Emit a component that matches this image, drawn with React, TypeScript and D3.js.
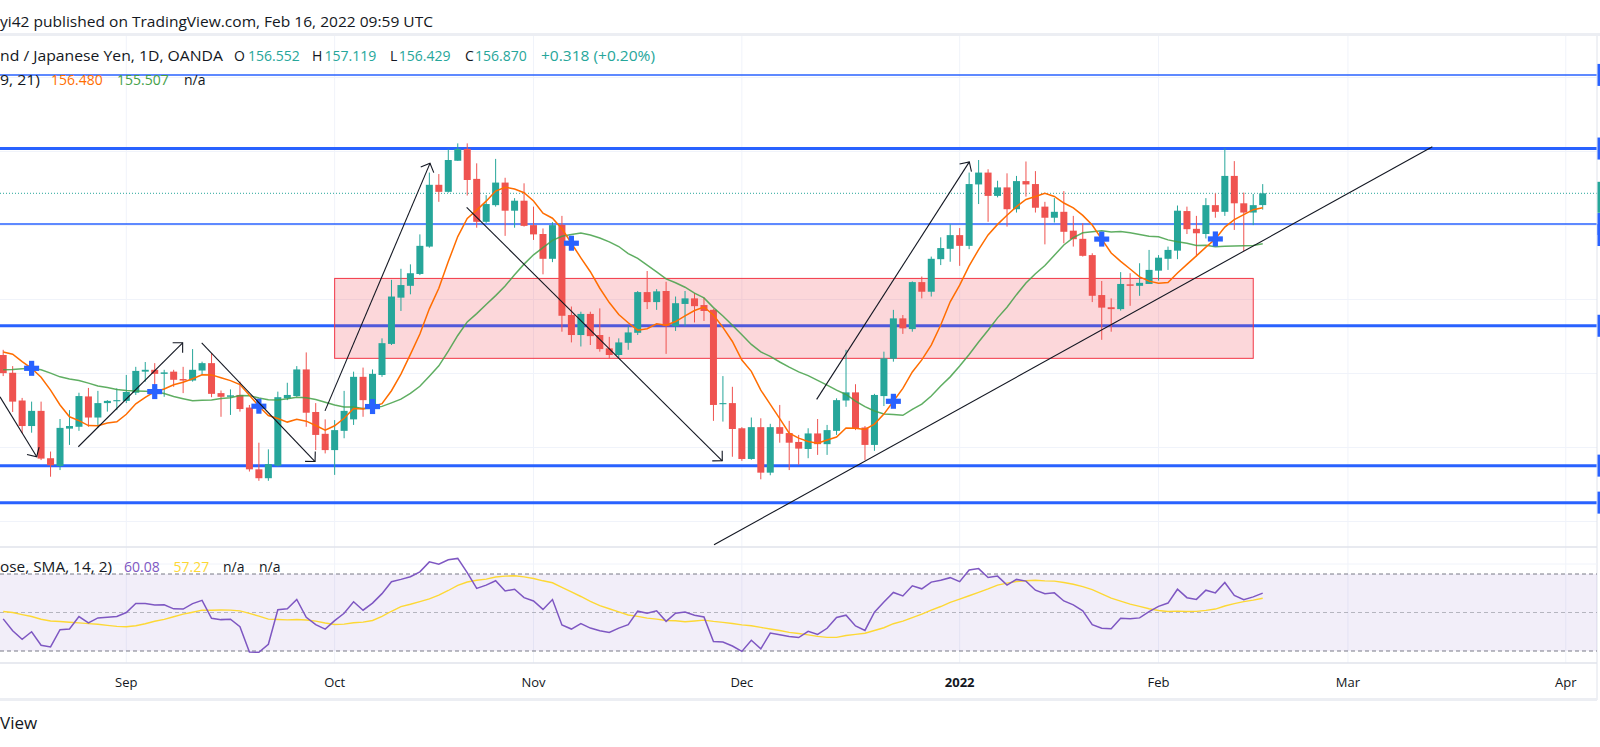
import React, { useEffect } from 'react';
import * as d3 from 'd3';

const W = 1600;
const H = 747;

// bar index of the first trading day of each month (bar 0 = 13 Aug 2021)
const monthTicks = [13, 35, 56, 78, 101, 122, 142, 165];
const monthLabels = ['Sep', 'Oct', 'Nov', 'Dec', '2022', 'Feb', 'Mar', 'Apr'];

// GBP/JPY daily candles: open, high, low, close
const ohlc: [number, number, number, number][] = [
  [152.50, 152.64, 151.93, 152.01], [152.02, 152.20, 150.96, 151.24], [151.27, 151.34, 150.39, 150.58],
  [150.58, 151.24, 150.40, 150.99], [150.99, 151.24, 149.66, 149.70], [149.71, 149.89, 149.21, 149.52],
  [149.50, 150.77, 149.39, 150.53], [150.51, 151.01, 150.07, 150.58], [150.56, 151.48, 150.45, 151.39],
  [151.38, 151.61, 150.56, 150.81], [150.81, 151.53, 150.54, 151.20], [151.20, 151.28, 150.97, 151.26],
  [151.25, 151.60, 151.01, 151.28], [151.26, 151.96, 151.20, 151.50], [151.48, 152.18, 151.42, 152.07],
  [152.05, 152.31, 151.78, 152.10], [152.10, 152.28, 151.60, 151.99], [151.99, 152.10, 151.37, 152.03],
  [152.05, 152.10, 151.64, 151.83], [151.85, 152.18, 151.47, 151.81], [151.81, 152.66, 151.78, 152.10],
  [152.08, 152.32, 151.96, 152.28], [152.28, 152.55, 151.36, 151.45], [151.47, 151.54, 150.83, 151.37],
  [151.37, 151.57, 150.88, 151.41], [151.42, 151.78, 150.97, 151.04], [151.08, 151.15, 149.35, 149.41],
  [149.41, 150.13, 149.10, 149.17], [149.17, 149.95, 149.10, 149.55], [149.51, 151.51, 149.48, 151.36],
  [151.33, 151.75, 151.28, 151.42], [151.39, 152.20, 151.37, 152.11], [152.11, 152.57, 150.56, 150.94],
  [150.96, 151.20, 149.93, 150.34], [150.37, 150.76, 149.84, 149.93], [149.93, 150.74, 149.26, 150.47],
  [150.45, 151.53, 150.25, 150.99], [150.76, 152.05, 150.61, 151.91], [151.91, 152.16, 150.83, 151.28],
  [151.10, 152.11, 150.92, 151.99], [151.96, 152.95, 151.91, 152.82], [152.80, 154.53, 152.77, 154.08],
  [154.05, 154.83, 153.69, 154.39], [154.37, 154.95, 154.14, 154.71], [154.69, 155.76, 154.66, 155.45],
  [155.43, 157.43, 155.40, 157.10], [157.10, 157.39, 156.64, 156.91], [156.91, 158.07, 156.89, 157.77],
  [157.75, 158.22, 157.75, 158.07], [158.07, 158.22, 156.81, 157.23], [157.26, 157.68, 155.94, 156.10],
  [156.10, 156.82, 156.06, 156.58], [156.55, 157.80, 156.51, 157.16], [157.16, 157.29, 155.72, 156.40],
  [156.40, 156.74, 155.94, 156.67], [156.67, 157.14, 155.97, 155.99], [156.01, 156.51, 155.61, 155.76],
  [155.77, 155.92, 154.68, 155.10], [155.10, 156.09, 155.01, 156.01], [156.02, 156.26, 153.13, 153.56],
  [153.58, 153.81, 152.84, 153.04], [153.04, 153.67, 152.73, 153.61], [153.61, 153.67, 152.77, 153.01],
  [153.04, 153.76, 152.59, 152.66], [152.68, 152.99, 152.41, 152.50], [152.50, 152.95, 152.41, 152.84],
  [152.83, 153.27, 152.64, 153.11], [153.10, 154.23, 153.04, 154.20], [154.20, 154.77, 153.74, 153.93],
  [153.93, 154.28, 153.72, 154.22], [154.23, 154.48, 152.53, 153.28], [153.28, 154.08, 153.15, 153.90],
  [153.88, 154.23, 153.28, 154.03], [154.03, 154.17, 153.38, 153.82], [153.85, 154.05, 153.42, 153.69],
  [153.72, 153.74, 150.72, 151.15], [151.17, 151.93, 150.70, 151.20], [151.20, 151.64, 149.75, 150.50],
  [150.52, 150.55, 149.64, 149.69], [149.69, 150.81, 149.67, 150.55], [150.55, 150.79, 149.14, 149.32],
  [149.32, 150.64, 149.25, 150.55], [150.55, 151.15, 150.13, 150.37], [150.39, 150.72, 149.39, 150.13],
  [150.15, 150.34, 149.53, 149.97], [149.96, 150.52, 149.71, 150.38], [150.38, 150.77, 149.80, 150.09],
  [150.09, 150.61, 149.80, 150.47], [150.45, 151.33, 150.34, 151.28], [151.27, 152.64, 151.10, 151.49],
  [151.49, 151.71, 150.47, 150.52], [150.54, 150.58, 149.66, 150.07], [150.07, 151.45, 149.91, 151.42],
  [151.39, 152.59, 151.12, 152.41], [152.40, 153.72, 152.32, 153.49], [153.49, 153.58, 153.07, 153.22],
  [153.20, 154.49, 153.13, 154.47], [154.47, 154.62, 154.03, 154.21], [154.21, 155.16, 154.08, 155.10],
  [155.09, 155.68, 154.93, 155.39], [155.37, 156.03, 155.02, 155.74], [155.74, 155.93, 154.91, 155.45],
  [155.45, 157.43, 155.36, 157.12], [157.11, 157.77, 156.58, 157.43], [157.43, 157.52, 156.10, 156.80],
  [156.80, 157.21, 156.76, 157.03], [157.03, 157.41, 155.97, 156.44], [156.44, 157.34, 156.35, 157.20],
  [157.20, 157.73, 156.78, 157.11], [157.12, 157.47, 156.35, 156.48], [156.51, 156.64, 155.49, 156.21],
  [156.21, 156.74, 156.08, 156.37], [156.37, 156.93, 155.52, 155.83], [155.86, 156.26, 155.43, 155.63],
  [155.64, 156.06, 155.16, 155.18], [155.20, 155.25, 153.93, 154.10], [154.12, 154.50, 152.91, 153.78],
  [153.79, 154.03, 153.13, 153.74], [153.74, 154.74, 153.70, 154.42], [154.41, 154.71, 153.83, 154.37],
  [154.37, 154.98, 154.10, 154.45], [154.42, 155.34, 154.42, 154.80], [154.78, 155.20, 154.51, 155.13],
  [155.10, 155.43, 154.80, 155.34], [155.32, 156.54, 155.09, 156.40], [156.39, 156.51, 155.77, 155.90],
  [155.91, 156.26, 155.16, 155.79], [155.77, 156.74, 155.65, 156.55], [156.55, 156.87, 156.21, 156.37],
  [156.37, 158.09, 156.26, 157.34], [157.34, 157.74, 155.88, 156.60], [156.60, 156.89, 155.31, 156.35],
  [156.35, 156.85, 156.01, 156.55], [156.552, 157.119, 156.429, 156.870],
];

// moving-average values before the window is full (history left of the chart)
const fastLead = [152.58, 152.52, 152.32, 152.14, 151.90, 151.55, 151.15, 150.83];
const slowLead = [152.10, 152.11, 152.13, 152.14, 152.10, 152.01, 151.91, 151.85, 151.81, 151.74,
  151.66, 151.62, 151.57, 151.54, 151.53, 151.52, 151.51, 151.46, 151.38, 151.32];

// RSI(14) per bar, and the leading values of its SMA(14)
const rsi = [
  46.7, 40.5, 36.1, 40.0, 33.0, 32.1, 41.1, 41.4, 47.9, 44.6,
  47.2, 47.5, 47.9, 50.0, 54.7, 54.7, 53.9, 54.0, 51.9, 51.8,
  54.6, 56.3, 47.0, 46.3, 46.5, 42.6, 29.5, 29.3, 33.5, 51.4,
  51.9, 56.8, 47.5, 43.7, 41.4, 45.8, 49.6, 55.6, 51.2, 54.9,
  59.8, 66.0, 67.2, 68.6, 71.1, 76.3, 75.1, 77.4, 78.1, 70.7,
  62.5, 64.2, 66.5, 61.2, 62.1, 57.7, 56.0, 51.6, 56.7, 43.5,
  41.4, 44.2, 41.9, 40.5, 39.6, 41.9, 43.7, 50.7, 49.6, 50.9,
  45.4, 49.6, 50.2, 48.6, 47.7, 34.9, 34.7, 32.6, 29.8, 35.6,
  31.1, 39.3, 38.4, 37.5, 37.0, 40.2, 38.6, 41.8, 47.4, 48.6,
  43.0, 40.7, 50.2, 55.4, 60.4, 58.6, 63.9, 62.3, 65.8, 66.8,
  68.1, 66.0, 72.1, 72.8, 68.2, 68.9, 64.2, 67.2, 66.3, 61.6,
  59.8, 60.2, 56.0, 54.0, 50.9, 43.7, 41.8, 41.6, 47.0, 46.8,
  47.2, 50.5, 53.2, 54.9, 62.1, 57.7, 56.8, 61.6, 60.2, 65.6,
  58.9, 56.7, 58.1, 60.08,
];
const rsiMaLead = [50.5, 50.0, 48.9, 47.9, 46.5, 45.6, 45.3, 44.9, 44.6, 44.2, 43.9, 43.3, 42.8];
const rsiLevels = [70, 50, 30];

// bars where the MA cross indicator drew a cross
const crossBars = [3, 16, 27, 39, 60, 94, 116, 128];

// drawings, in (bar index, price)
const levelPrices = [160.07, 158.08, 156.04, 153.29, 149.51, 148.51];
const zoneBars = [35, 132];
const zonePrices = [154.57, 152.41];
const arrows: [number, number, number, number][] = [
  [-0.34, 151.37, 3.54, 149.75],
  [7.93, 150.02, 18.95, 152.83],
  [20.96, 152.83, 32.93, 149.62],
  [33.98, 150.99, 45.07, 157.68],
  [48.94, 156.49, 75.93, 149.64],
  [85.9, 151.30, 102.02, 157.72],
];
const trendLine = [75.06, 147.37, 150.91, 158.13];
const priceGrid = [148, 150, 152, 154, 156, 158, 160];

const legendOHLC = ['156.552', '157.119', '156.429', '156.870'];
const legendChange = '+0.318 (+0.20%)';
const legendMA = ['156.480', '155.507'];
const legendRSI = ['60.08', '57.27'];

const UP = '#26a69a';
const DOWN = '#ef5350';
const TEXT = '#131722';
const GRID = '#f0f3fa';
const BORDER = '#e0e3eb';
const BLUE = '#2962ff';
const levelWidths = [1.5, 3, 1.5, 3, 3, 3];

function sma(values: number[], n: number, lead: number[]) {
  return values.map((_, i) => (i < lead.length ? lead[i] : (d3.mean(values.slice(i - n + 1, i + 1)) as number)));
}

function arrowHead(x1: number, y1: number, x2: number, y2: number, len = 10, ang = Math.PI / 4) {
  const a = Math.atan2(y1 - y2, x1 - x2);
  const ax = x2 + len * Math.cos(a + ang);
  const ay = y2 + len * Math.sin(a + ang);
  const bx = x2 + len * Math.cos(a - ang);
  const by = y2 + len * Math.sin(a - ang);
  return `M${ax},${ay}L${x2},${y2}L${bx},${by}`;
}

export default function App() {
  useEffect(() => {
    document.body.style.margin = '0';
  }, []);

  const x = d3.scaleLinear().domain([0, 165]).range([3.2, 1565.75]);
  const y = d3.scaleLinear().domain([148, 160]).range([521.5, 77.5]);
  const yr = d3.scaleLinear().domain([30, 70]).range([651, 574]);

  const closes = ohlc.map((d) => d[3]);
  const fast = sma(closes, 9, fastLead);
  const slow = sma(closes, 21, slowLead);
  const rsiMa = sma(rsi, 14, rsiMaLead);

  const line = d3.line<number>().x((_, i) => x(i)).y((d) => y(d));
  const rline = d3.line<number>().x((_, i) => x(i)).y((d) => yr(d));

  const right = 1597;
  const bodyW = 7;
  const font = "'Open Sans', Roboto, sans-serif";
  const fit = 'spacingAndGlyphs';

  return (
    <svg width={W} height={H} style={{ position: 'absolute', left: 0, top: 0, background: '#fff' }} fontFamily={font}>
      <defs>
        <clipPath id="mainPane">
          <rect x={0} y={36} width={right} height={510.5} />
        </clipPath>
        <clipPath id="oscPane">
          <rect x={0} y={547.5} width={right} height={115} />
        </clipPath>
      </defs>
      <rect x={0} y={0} width={W} height={H} fill="#fff" />

      {/* header */}
      <text x={0} y={26.5} fontSize={14} fill={TEXT} textLength={433} lengthAdjust={fit}>
        yi42 published on TradingView.com, Feb 16, 2022 09:59 UTC
      </text>
      <rect x={0} y={33} width={W} height={3} fill="#eceef3" />

      {/* grid */}
      {monthTicks.map((t, i) => (
        <line key={'vg' + i} x1={x(t)} x2={x(t)} y1={36} y2={663} stroke={GRID} strokeWidth={1} />
      ))}
      <g clipPath="url(#mainPane)">
        {priceGrid.map((p) => (
          <line key={'hg' + p} x1={0} x2={right} y1={y(p)} y2={y(p)} stroke={GRID} strokeWidth={1} />
        ))}
      </g>

      {/* main pane */}
      <g clipPath="url(#mainPane)">
        {levelPrices.map((p, i) => (
          <line key={'lv' + i} x1={0} x2={right} y1={y(p)} y2={y(p)} stroke={BLUE} strokeWidth={levelWidths[i]} />
        ))}
        <rect
          x={x(zoneBars[0])}
          y={y(zonePrices[0])}
          width={x(zoneBars[1]) - x(zoneBars[0])}
          height={y(zonePrices[1]) - y(zonePrices[0])}
          fill="rgba(242,54,69,0.2)"
          stroke="#f23645"
          strokeWidth={1}
        />
        <line x1={0} x2={right} y1={y(closes[closes.length - 1])} y2={y(closes[closes.length - 1])} stroke={UP} strokeWidth={1} strokeDasharray="1,2" />

        {ohlc.map(([o, h, l, c], i) => {
          const col = c >= o ? UP : DOWN;
          const top = y(Math.max(o, c));
          const bh = Math.max(1, y(Math.min(o, c)) - top);
          return (
            <g key={'c' + i}>
              <line x1={x(i)} x2={x(i)} y1={y(h)} y2={y(l)} stroke={col} strokeWidth={1} />
              <rect x={x(i) - bodyW / 2} y={top} width={bodyW} height={bh} fill={col} />
            </g>
          );
        })}

        <path d={line(slow) ?? ''} fill="none" stroke="#43a047" strokeOpacity={0.85} strokeWidth={1.5} />
        <path d={line(fast) ?? ''} fill="none" stroke="#ff6d00" strokeWidth={1.5} />

        {crossBars.map((b) => (
          <g key={'x' + b} fill={BLUE}>
            <rect x={x(b) - 7.5} y={y(fast[b]) - 2.6} width={15} height={5.2} />
            <rect x={x(b) - 2.6} y={y(fast[b]) - 7.5} width={5.2} height={15} />
          </g>
        ))}

        {arrows.map(([i1, p1, i2, p2], k) => {
          const x1 = x(i1), y1 = y(p1), x2 = x(i2), y2 = y(p2);
          return (
            <g key={'a' + k} stroke="#131722" strokeWidth={1.1} fill="none">
              <line x1={x1} y1={y1} x2={x2} y2={y2} />
              <path d={arrowHead(x1, y1, x2, y2)} />
            </g>
          );
        })}
        <line x1={x(trendLine[0])} y1={y(trendLine[1])} x2={x(trendLine[2])} y2={y(trendLine[3])} stroke="#131722" strokeWidth={1.1} />
      </g>

      {/* legend */}
      <text y={61} fontSize={14} fill={TEXT}>
        <tspan x={0} textLength={223} lengthAdjust={fit}>nd / Japanese Yen, 1D, OANDA</tspan>
        <tspan x={234}>O</tspan>
        <tspan x={248} fill={UP}>{legendOHLC[0]}</tspan>
        <tspan x={312}>H</tspan>
        <tspan x={324.5} fill={UP}>{legendOHLC[1]}</tspan>
        <tspan x={390}>L</tspan>
        <tspan x={398.7} fill={UP}>{legendOHLC[2]}</tspan>
        <tspan x={465}>C</tspan>
        <tspan x={475} fill={UP}>{legendOHLC[3]}</tspan>
        <tspan x={541} fill={UP} textLength={114} lengthAdjust={fit}>{legendChange}</tspan>
      </text>
      <text y={85} fontSize={14} fill={TEXT}>
        <tspan x={0} textLength={40} lengthAdjust={fit}>9, 21)</tspan>
        <tspan x={51} fill="#ff6d00">{legendMA[0]}</tspan>
        <tspan x={117} fill="#43a047">{legendMA[1]}</tspan>
        <tspan x={184}>n/a</tspan>
      </text>

      {/* right price-scale edge */}
      <line x1={right} x2={right} y1={36} y2={700} stroke={BORDER} strokeWidth={1} />
      {levelPrices.map((p, i) => (
        <rect key={'lb' + i} x={right + 0.5} y={y(p) - 11} width={3} height={22} fill={BLUE} />
      ))}
      <rect x={right + 0.5} y={y(closes[closes.length - 1]) - 11.5} width={3} height={31} fill={UP} />
      <rect x={right + 0.5} y={y(levelPrices[2])} width={3} height={22} fill={BLUE} />

      {/* RSI pane */}
      <line x1={0} x2={right} y1={547} y2={547} stroke={BORDER} strokeWidth={1.5} />
      <g clipPath="url(#oscPane)">
        <line x1={0} x2={right} y1={564} y2={564} stroke={GRID} strokeWidth={1} />
        <rect x={0} y={yr(70)} width={right} height={yr(30) - yr(70)} fill="rgba(126,87,194,0.1)" />
        {rsiLevels.map((v) => (
          <line key={'rl' + v} x1={0} x2={right} y1={yr(v)} y2={yr(v)} stroke="#787b86" strokeOpacity={v === 50 ? 0.5 : 1} strokeWidth={1} strokeDasharray="4,3" />
        ))}
        <path d={rline(rsiMa) ?? ''} fill="none" stroke="#fdd835" strokeWidth={1.4} />
        <path d={rline(rsi) ?? ''} fill="none" stroke="#7e57c2" strokeWidth={1.5} />
      </g>
      <text y={572} fontSize={14} fill={TEXT}>
        <tspan x={0} textLength={112} lengthAdjust={fit}>ose, SMA, 14, 2)</tspan>
        <tspan x={124} fill="#7e57c2">{legendRSI[0]}</tspan>
        <tspan x={173.5} fill="#fdd835">{legendRSI[1]}</tspan>
        <tspan x={223}>n/a</tspan>
        <tspan x={259}>n/a</tspan>
      </text>

      {/* time axis */}
      <line x1={0} x2={right} y1={663} y2={663} stroke={BORDER} strokeWidth={1.5} />
      {monthTicks.map((t, i) => (
        <text key={'ml' + i} x={x(t)} y={686.5} fontSize={13} fill={TEXT} textAnchor="middle" fontWeight={monthLabels[i] === '2022' ? 'bold' : 'normal'}>
          {monthLabels[i]}
        </text>
      ))}
      <rect x={0} y={698} width={right} height={3} fill="#eceef3" />

      <text x={0} y={729} fontSize={17} fill={TEXT}>View</text>
    </svg>
  );
}
